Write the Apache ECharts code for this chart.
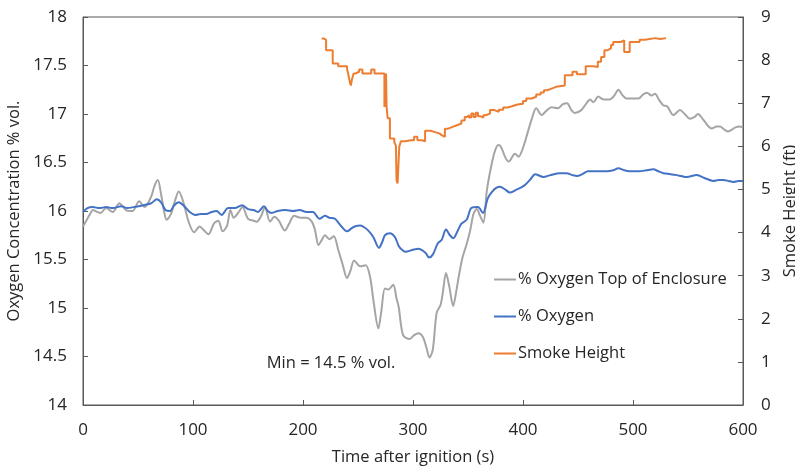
<!DOCTYPE html>
<html>
<head>
<meta charset="utf-8">
<script src="https://cdn.jsdelivr.net/npm/echarts@6/dist/echarts.min.js"></script>
<style>html,body{margin:0;padding:0;background:#fff}#c{width:795px;height:469px}</style>
</head>
<body>
<div id="c"></div>
<script>
// Time (s) and values
const topOxygen = [
[0,15.84],[3,15.9],[6,15.96],[9,16.01],[13,15.99],[16,15.98],[21,16.03],[27,15.99],[33,16.08],[39,16.01],
[45,16.0],[51,16.1],[56,16.04],[62,16.15],[65,16.26],[68,16.32],[71,16.17],[74,15.98],[76,15.91],[80,15.97],
[84,16.12],[87,16.2],[91,16.1],[96,15.89],[101,15.78],[106,15.84],[110,15.8],[114,15.76],[119,15.87],[123,15.9],
[127,15.79],[131,15.85],[134,16.01],[137,15.93],[141,15.98],[145,16.04],[150,15.92],[155,15.9],[158,15.89],[162,15.95],
[165.5,16.04],[170,15.89],[174,15.94],[178,15.9],[183.5,15.8],[187,15.86],[192,15.95],[198,15.93],[203,15.93],[208,15.89],
[211,15.8],[214,15.65],[217,15.7],[220,15.75],[224,15.71],[228,15.74],[232,15.6],[236,15.45],[240,15.31],[243,15.38],
[246.5,15.49],[252,15.43],[257,15.44],[261,15.32],[264,15.08],[268.5,14.79],[271,14.95],[274.5,15.2],[277.5,15.19],[282,15.24],
[285,15.1],[287,15.01],[291,14.72],[297,14.68],[301,14.72],[305,14.74],[309,14.7],[312,14.6],[315,14.49],[318,14.57],
[321.5,14.95],[325,15.03],[327,15.15],[330,15.36],[333,15.22],[336.5,15.02],[339,15.15],[342,15.35],[345,15.52],[348.8,15.66],
[352,15.8],[355,15.97],[358,16.02],[361,15.95],[364,15.88],[367,16.2],[370,16.4],[374,16.6],[377.5,16.68],[380,16.66],
[384,16.55],[387,16.51],[392.7,16.59],[396,16.56],[400,16.65],[403,16.76],[408,16.95],[412,17.06],[417,16.99],[421,17.03],
[426,17.07],[432,17.06],[436,17.1],[440,17.11],[444,17.04],[447,17.01],[453,17.04],[457,17.1],[461,17.15],[464,17.12],
[468.5,17.18],[473,17.15],[479,17.15],[483,17.19],[486.7,17.25],[490,17.2],[494,17.16],[500,17.16],[505,17.16],[509,17.2],
[512.5,17.22],[517,17.19],[520,17.21],[524,17.14],[527.5,17.09],[531,17.08],[536.7,16.99],[542.7,17.04],[547,17.0],[551.8,16.95],
[556,16.97],[559,17.0],[564,16.94],[568,16.88],[571.5,16.85],[576,16.87],[579,16.87],[583,16.84],[586.6,16.82],[590,16.84],
[592.7,16.86],[597,16.87],[600,16.86]
];
const oxygen = [
[0,15.99],[4,16.03],[9,16.04],[15,16.03],[21,16.04],[27,16.03],[35,16.05],[40,16.03],[46,16.04],[55,16.06],
[62,16.08],[67,16.12],[71,16.09],[75,16.01],[79,16.0],[83,16.06],[87,16.09],[92,16.05],[97,15.99],[102,15.96],
[107,15.97],[112,15.97],[117,15.99],[121.5,16.0],[126,15.96],[132,16.03],[138,16.03],[144.5,16.06],[150,16.02],[155,16.01],
[159,15.99],[164.5,16.05],[168,16.0],[171.5,15.98],[177,16.0],[184,16.01],[191,16.0],[197,16.01],[203,15.99],[209,15.99],
[215,15.92],[220,15.95],[224,15.93],[229,15.92],[235,15.84],[240,15.79],[244,15.82],[247,15.84],[252,15.85],[256,15.83],
[260,15.79],[264,15.73],[269,15.62],[272,15.68],[274.5,15.75],[279,15.77],[283.6,15.73],[287,15.64],[290,15.6],[293,15.58],
[300,15.6],[305,15.61],[309,15.59],[312,15.56],[314.5,15.52],[318,15.55],[322.7,15.67],[326,15.7],[330,15.81],[333.6,15.75],
[336.7,15.72],[340,15.78],[344,15.87],[348.8,15.91],[353,16.03],[359,16.04],[363.6,15.98],[368,16.13],[372,16.2],[376,16.24],
[379,16.25],[384,16.22],[388,16.19],[394,16.22],[398,16.24],[402,16.27],[407,16.33],[411,16.38],[418.5,16.35],[425,16.37],
[433.6,16.39],[439.7,16.39],[445,16.37],[449,16.36],[454,16.38],[459,16.41],[467,16.41],[476,16.41],[482,16.42],[486.7,16.44],
[492,16.42],[497,16.41],[506,16.41],[512,16.42],[518.5,16.43],[523,16.41],[527.5,16.39],[534,16.38],[539.7,16.37],[544,16.36],
[548.8,16.35],[558,16.37],[565,16.34],[573,16.31],[578,16.32],[582,16.32],[587,16.31],[591,16.3],[596,16.31],[600,16.31]
];
const smokeHeight = [
[217,8.5],[219,8.47],[221,8.23],[227,7.92],[232,7.86],[240,7.8],[241,7.69],[242.5,7.5],[243.5,7.41],[244.5,7.55],[246,7.69],
[248,7.73],[251,7.78],[254,7.69],[262,7.78],[265,7.69],[274,6.91],[274.5,7.69],[275,6.91],[275.5,7.69],[276,6.91],
[277,6.65],[279,6.18],[283,6.1],[284.5,6.01],[285,5.21],[286,5.14],[287.5,5.99],[289,6.12],[293,6.14],[298,6.14],
[301,6.22],[304,6.14],[308,6.12],[311,6.36],[316,6.33],[320,6.3],[324,6.26],[326,6.22],[329,6.41],[332,6.45],
[336,6.49],[340,6.53],[344,6.6],[347,6.68],[349,6.72],[351,6.67],[353,6.76],[355,6.68],[357,6.78],[359,6.7],
[361,6.67],[364,6.72],[366,6.76],[370,6.84],[374,6.8],[378,6.85],[382,6.9],[386,6.93],[390,6.97],[395,6.99],
[400,7.05],[403,7.11],[408,7.15],[412,7.2],[416,7.25],[419,7.3],[422,7.34],[426,7.38],[430,7.41],[438,7.65],
[445,7.73],[449,7.67],[457,7.86],[464,7.84],[468,7.96],[471,8.07],[474,8.23],[477,8.27],[480,8.35],[482,8.42],
[489,8.46],[492,8.19],[497,8.42],[506,8.47],[511,8.51],[520,8.49],[525,8.51],[530,8.5]
];
const minNote = {text: 'Min = 14.5 % vol.', at: [225.5, 14.43]};

const FONT = 'Open Sans';
const TXT = '#262626';
const AX = '#595959';
const chart = echarts.init(document.getElementById('c'), null, {renderer: 'canvas'});
chart.setOption({
  animation: false,
  backgroundColor: '#fff',
  textStyle: {fontFamily: FONT, color: TXT},
  grid: {left: 83, right: 52, top: 17, bottom: 64, outerBoundsMode: 'none', containLabel: false,
         show: true, borderColor: AX, borderWidth: 1, backgroundColor: 'transparent'},
  legend: {
    orient: 'vertical', left: 488, top: 266, itemGap: 20, itemWidth: 22, itemHeight: 2,
    textStyle: {fontFamily: FONT, fontSize: 16.5, color: TXT, padding: [0,0,0,-3]},
    data: ['% Oxygen Top of Enclosure', '% Oxygen', 'Smoke Height']
  },
  xAxis: {
    type: 'value', min: 0, max: 600, interval: 100,
    name: 'Time after ignition (s)', nameLocation: 'middle', nameGap: 44,
    nameTextStyle: {fontFamily: FONT, fontSize: 16.5, color: TXT},
    axisLine: {show: true, lineStyle: {color: AX}},
    axisTick: {show: true, inside: true, length: 5, lineStyle: {color: AX}},
    axisLabel: {fontFamily: FONT, fontSize: 17, color: TXT, margin: 17},
    splitLine: {show: false}
  },
  yAxis: [{
    type: 'value', min: 14, max: 18, interval: 0.5,
    name: 'Oxygen Concentration % vol.', nameLocation: 'middle', nameGap: 52,
    nameTextStyle: {fontFamily: FONT, fontSize: 16.5, color: TXT},
    axisLine: {show: true, lineStyle: {color: AX}},
    axisTick: {show: true, inside: true, length: 5, lineStyle: {color: AX}},
    axisLabel: {fontFamily: FONT, fontSize: 17, color: TXT, margin: 16},
    splitLine: {show: false}
  }, {
    type: 'value', min: 0, max: 9, interval: 1, position: 'right',
    name: 'Smoke Height (ft)', nameLocation: 'middle', nameGap: 30,
    nameTextStyle: {fontFamily: FONT, fontSize: 16.5, color: TXT},
    axisLine: {show: true, lineStyle: {color: AX}},
    axisTick: {show: true, inside: true, length: 5, lineStyle: {color: AX}},
    axisLabel: {fontFamily: FONT, fontSize: 17, color: TXT, margin: 18},
    splitLine: {show: false}
  }],
  series: [{
    name: '% Oxygen Top of Enclosure', type: 'line', data: topOxygen, yAxisIndex: 0,
    symbol: 'none', smooth: 0.3, lineStyle: {color: '#A5A5A5', width: 2}, itemStyle: {color: '#A5A5A5'},
    markPoint: {
      symbol: 'circle', symbolSize: 0, silent: true,
      label: {show: true, formatter: minNote.text, fontFamily: FONT, fontSize: 16.5, color: TXT, position: 'inside'},
      data: [{coord: minNote.at}]
    }
  }, {
    name: '% Oxygen', type: 'line', data: oxygen, yAxisIndex: 0,
    symbol: 'none', smooth: 0.3, lineStyle: {color: '#4472C4', width: 2}, itemStyle: {color: '#4472C4'}
  }, {
    name: 'Smoke Height', type: 'line', data: smokeHeight, yAxisIndex: 1, step: 'end',
    symbol: 'none', lineStyle: {color: '#ED7D31', width: 2}, itemStyle: {color: '#ED7D31'}
  }]
});
</script>
</body>
</html>
